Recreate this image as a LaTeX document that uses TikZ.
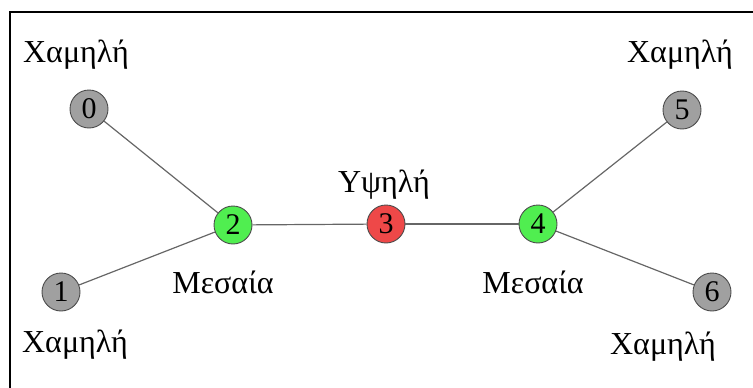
\documentclass[tikz,border=0pt]{standalone}
\usepackage{fontspec}
\setmainfont{Liberation Serif}
\definecolor{lowc}{RGB}{160,160,160}
\definecolor{midc}{RGB}{80,238,80}
\definecolor{highc}{RGB}{238,72,72}
\begin{document}
\begin{tikzpicture}[x=1pt,y=-1pt,
  vtx/.style={circle, draw=black!70, line width=0.9pt, minimum size=38pt, inner sep=0pt, font=\fontsize{30}{30}\selectfont},
  low/.style={vtx, fill=lowc},
  mid/.style={vtx, fill=midc},
  high/.style={vtx, fill=highc},
  lbl/.style={inner sep=0pt, font=\fontsize{32}{36}\selectfont},
  link/.style={draw=black!60, line width=1.2pt},
  frame/.style={draw=black, line width=2pt}]
\useasboundingbox (0,0) rectangle (753,388);
\coordinate (fb) at (10,388);
\coordinate (ftl) at (10,12);
\coordinate (fr) at (753,12);
\draw[frame] (fb) -- (ftl) -- (fr);
\node[low]  (n0) at (89,109) {0};
\node[low]  (n1) at (61,292) {1};
\node[mid]  (n2) at (233,225) {2};
\node[high] (n3) at (386,224) {3};
\node[mid]  (n4) at (538,224) {4};
\node[low]  (n5) at (682,110) {5};
\node[low]  (n6) at (712,292) {6};
\draw[link] (n0) -- (n2);
\draw[link] (n1) -- (n2);
\draw[link] (n2) -- (n3);
\draw[link] (n3) -- (n4);
\draw[link] (n4) -- (n5);
\draw[link] (n4) -- (n6);
\node[lbl] (t0) at (76,55) {Χαμηλή};
\node[lbl] (t1) at (75,345) {Χαμηλή};
\node[lbl] (t2) at (223,282) {Μεσαία};
\node[lbl] (t3) at (384,185) {Υψηλή};
\node[lbl] (t4) at (533,282) {Μεσαία};
\node[lbl] (t5) at (680,55) {Χαμηλή};
\node[lbl] (t6) at (663,347) {Χαμηλή};
\end{tikzpicture}
\end{document}
